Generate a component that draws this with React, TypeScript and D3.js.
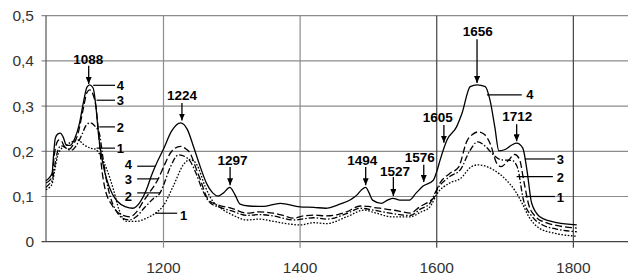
import React from 'react';
import * as d3 from 'd3';

const width = 628;
const height = 276;

const yTicks = [0, 0.1, 0.2, 0.3, 0.4, 0.5];
const xTicks = [1200, 1400, 1600, 1800];

// [wavenumber, absorbance]
const series4: [number, number][] = [
  [1028, 0.135], [1033, 0.142], [1037, 0.152], [1039, 0.19], [1041.5, 0.228], [1045, 0.238],
  [1049, 0.24], [1053, 0.232], [1058, 0.213], [1063, 0.213], [1070, 0.228], [1077, 0.262],
  [1083, 0.31], [1088, 0.342], [1092, 0.347], [1097, 0.34], [1101, 0.3], [1105, 0.235],
  [1111, 0.175], [1117, 0.137], [1125, 0.106], [1132, 0.09], [1145, 0.077], [1155, 0.074],
  [1166, 0.088], [1175, 0.115], [1182, 0.145], [1188, 0.167], [1200, 0.205], [1212, 0.245],
  [1225, 0.263], [1235, 0.248], [1244, 0.21], [1254, 0.165], [1263, 0.129], [1272, 0.108],
  [1280, 0.101], [1288, 0.108], [1297, 0.12], [1304, 0.106], [1312, 0.083], [1325, 0.079],
  [1345, 0.078], [1371, 0.085], [1400, 0.077], [1420, 0.076], [1437, 0.074], [1458, 0.083],
  [1475, 0.094], [1483, 0.103], [1490, 0.115], [1496, 0.12], [1501, 0.108], [1506, 0.092],
  [1519, 0.085], [1528, 0.092], [1536, 0.096], [1546, 0.092], [1560, 0.092], [1570, 0.108],
  [1580, 0.123], [1595, 0.136], [1600, 0.155], [1605, 0.181], [1615, 0.225], [1629, 0.254],
  [1637, 0.284], [1649, 0.343], [1659, 0.347], [1671, 0.343], [1678, 0.313], [1685, 0.254],
  [1691, 0.201], [1700, 0.204], [1710, 0.214], [1717, 0.218], [1726, 0.207], [1732, 0.159],
  [1739, 0.085], [1751, 0.055], [1765, 0.046], [1776, 0.042], [1805, 0.037],
];

const series3: [number, number][] = [
  [1028, 0.13], [1033, 0.135], [1037, 0.145], [1040, 0.19], [1043, 0.215], [1047, 0.225],
  [1051, 0.222], [1056, 0.208], [1062, 0.205], [1068, 0.215], [1075, 0.24], [1082, 0.29],
  [1088, 0.33], [1092, 0.336], [1097, 0.325], [1101, 0.3], [1105, 0.24], [1109, 0.17],
  [1114, 0.12], [1125, 0.08], [1138, 0.06], [1151, 0.055], [1160, 0.065], [1170, 0.088],
  [1180, 0.11], [1192, 0.138], [1200, 0.165], [1212, 0.2], [1225, 0.211], [1233, 0.205],
  [1239, 0.196], [1247, 0.165], [1254, 0.137], [1266, 0.092], [1280, 0.081], [1300, 0.074],
  [1322, 0.063], [1340, 0.066], [1361, 0.063], [1375, 0.058], [1390, 0.052], [1405, 0.057],
  [1420, 0.059], [1439, 0.057], [1455, 0.06], [1468, 0.066], [1488, 0.079], [1500, 0.078],
  [1507, 0.076], [1522, 0.073], [1536, 0.07], [1550, 0.066], [1561, 0.063], [1576, 0.078],
  [1590, 0.09], [1597, 0.1], [1602, 0.122], [1619, 0.151], [1632, 0.165], [1644, 0.222],
  [1653, 0.238], [1661, 0.243], [1670, 0.237], [1678, 0.218], [1688, 0.173], [1694, 0.166],
  [1705, 0.18], [1714, 0.193], [1721, 0.183], [1728, 0.13], [1735, 0.08], [1745, 0.055],
  [1760, 0.042], [1775, 0.036], [1805, 0.03],
];

const series2: [number, number][] = [
  [1028, 0.12], [1033, 0.128], [1037, 0.135], [1041, 0.17], [1045, 0.2], [1050, 0.212],
  [1055, 0.21], [1060, 0.204], [1066, 0.203], [1072, 0.212], [1080, 0.235], [1087, 0.258],
  [1093, 0.263], [1100, 0.255], [1106, 0.24], [1111, 0.19], [1116, 0.14], [1122, 0.1],
  [1130, 0.07], [1140, 0.052], [1150, 0.048], [1160, 0.055], [1172, 0.075], [1185, 0.095],
  [1195, 0.108], [1200, 0.125], [1210, 0.165], [1222, 0.192], [1232, 0.188], [1239, 0.178],
  [1248, 0.15], [1256, 0.118], [1269, 0.085], [1283, 0.076], [1300, 0.068], [1322, 0.058],
  [1340, 0.06], [1361, 0.057], [1390, 0.048], [1420, 0.053], [1439, 0.05], [1468, 0.062],
  [1488, 0.074], [1507, 0.07], [1536, 0.062], [1561, 0.058], [1576, 0.072], [1590, 0.085],
  [1600, 0.115], [1619, 0.144], [1635, 0.16], [1648, 0.2], [1660, 0.221], [1672, 0.21],
  [1683, 0.192], [1695, 0.181], [1710, 0.18], [1718, 0.165], [1727, 0.092], [1740, 0.055],
  [1755, 0.037], [1775, 0.028], [1805, 0.022],
];

const series1: [number, number][] = [
  [1028, 0.115], [1033, 0.12], [1037, 0.128], [1041, 0.16], [1045, 0.19], [1050, 0.205],
  [1056, 0.212], [1062, 0.218], [1068, 0.222], [1075, 0.225], [1083, 0.215], [1093, 0.207],
  [1100, 0.205], [1108, 0.19], [1117, 0.16], [1127, 0.114], [1135, 0.07], [1146, 0.045],
  [1160, 0.045], [1175, 0.052], [1188, 0.063], [1200, 0.08], [1214, 0.122], [1229, 0.17],
  [1239, 0.182], [1249, 0.17], [1261, 0.122], [1271, 0.092], [1283, 0.075], [1300, 0.06],
  [1322, 0.048], [1340, 0.05], [1361, 0.045], [1380, 0.04], [1400, 0.037], [1420, 0.042],
  [1439, 0.04], [1468, 0.055], [1494, 0.07], [1507, 0.065], [1536, 0.055], [1561, 0.055],
  [1576, 0.065], [1590, 0.077], [1600, 0.105], [1619, 0.13], [1635, 0.14], [1650, 0.165],
  [1660, 0.17], [1675, 0.165], [1683, 0.159], [1702, 0.136], [1715, 0.112], [1725, 0.085],
  [1735, 0.055], [1750, 0.03], [1775, 0.018], [1805, 0.012],
];

// peak annotations: label, arrow wavenumber, arrow top/tip values, text position
const peaks = [
  { label: '1088', wn: 1090.5, from: 0.389, to: 0.349, textWn: 1090, textY: 0.404 },
  { label: '1224', wn: 1227, from: 0.307, to: 0.268, textWn: 1227, textY: 0.325 },
  { label: '1297', wn: 1297.5, from: 0.165, to: 0.125, textWn: 1301, textY: 0.181 },
  { label: '1494', wn: 1496, from: 0.165, to: 0.125, textWn: 1491, textY: 0.181 },
  { label: '1527', wn: 1536.5, from: 0.143, to: 0.101, textWn: 1539, textY: 0.156 },
  { label: '1576', wn: 1581, from: 0.17, to: 0.132, textWn: 1575, textY: 0.187 },
  { label: '1605', wn: 1610.5, from: 0.258, to: 0.219, textWn: 1601.5, textY: 0.275 },
  { label: '1656', wn: 1659, from: 0.448, to: 0.351, textWn: 1660, textY: 0.466 },
  { label: '1712', wn: 1717, from: 0.26, to: 0.222, textWn: 1718, textY: 0.278 },
];

// curve number labels with leader lines
const leaders = [
  { label: '4', x1: 1097, x2: 1129, y: 0.346, textWn: 1137, textY: 0.346 },
  { label: '3', x1: 1102, x2: 1129, y: 0.313, textWn: 1137, textY: 0.313 },
  { label: '2', x1: 1106, x2: 1129, y: 0.254, textWn: 1137, textY: 0.254 },
  { label: '1', x1: 1102, x2: 1129, y: 0.207, textWn: 1137, textY: 0.207 },
  { label: '4', x1: 1161.5, x2: 1188, y: 0.167, textWn: 1148.5, textY: 0.171 },
  { label: '3', x1: 1161.5, x2: 1192, y: 0.139, textWn: 1148.5, textY: 0.137 },
  { label: '2', x1: 1161.5, x2: 1195, y: 0.108, textWn: 1148.5, textY: 0.101 },
  { label: '1', x1: 1188, x2: 1220, y: 0.063, textWn: 1229.5, textY: 0.058 },
  { label: '4', x1: 1673.5, x2: 1724.5, y: 0.325, textWn: 1736.5, textY: 0.325 },
  { label: '3', x1: 1729, x2: 1773, y: 0.183, textWn: 1781, textY: 0.183 },
  { label: '2', x1: 1717, x2: 1770, y: 0.144, textWn: 1781, textY: 0.142 },
  { label: '1', x1: 1729, x2: 1773, y: 0.1, textWn: 1781, textY: 0.098 },
];

const seriesList = [
  { name: '1', data: series1, dash: '1.6,1.6' },
  { name: '2', data: series2, dash: '6,2,1.5,2' },
  { name: '3', data: series3, dash: '7,3' },
  { name: '4', data: series4, dash: null },
];

const x = d3.scaleLinear().domain([1028, 1880]).range([46, 628]);
const y = d3.scaleLinear().domain([0, 0.5]).range([241.7, 15.7]);

const line = d3
  .line<[number, number]>()
  .x((d) => x(d[0]))
  .y((d) => y(d[1]))
  .curve(d3.curveMonotoneX);

const font = 'Arial, "Liberation Sans", sans-serif';

export default function App() {
  return (
    <svg
      width={width}
      height={height}
      style={{ position: 'absolute', left: 0, top: 0, background: '#fff' }}
    >
      <defs>
        <marker
          id="arrow"
          viewBox="0 0 7 6"
          refX={7}
          refY={3}
          markerWidth={7}
          markerHeight={6}
          markerUnits="userSpaceOnUse"
          orient="auto"
        >
          <path d="M0,0 L7,3 L0,6 z" fill="#000" />
        </marker>
      </defs>

      {/* horizontal grid */}
      {yTicks.map((t) => (
        <line
          key={'h' + t}
          x1={x.range()[0] - 4.5}
          x2={width}
          y1={y(t)}
          y2={y(t)}
          stroke={t === 0 ? '#444' : '#8c8c8c'}
          strokeWidth={1.2}
        />
      ))}
      {/* vertical grid */}
      {xTicks.map((t) => (
        <line
          key={'v' + t}
          x1={x(t)}
          x2={x(t)}
          y1={y(0.5)}
          y2={y(0) + 6}
          stroke={t < 1500 ? '#8c8c8c' : '#444'}
          strokeWidth={1.2}
        />
      ))}
      <line x1={x(1028)} x2={x(1028)} y1={y(0.5)} y2={y(0)} stroke="#555" strokeWidth={1.2} />

      {/* tick labels */}
      {yTicks.map((t) => (
        <text
          key={'yl' + t}
          x={34}
          y={y(t)}
          dy="0.36em"
          textAnchor="end"
          fontFamily={font}
          fontSize={15.5}
          fill="#333"
        >
          {t === 0 ? '0' : d3.format('.1f')(t).replace('.', ',')}
        </text>
      ))}
      {xTicks.map((t) => (
        <text
          key={'xl' + t}
          x={x(t)}
          y={273}
          textAnchor="middle"
          fontFamily={font}
          fontSize={15.5}
          fill="#333"
        >
          {t}
        </text>
      ))}

      {/* curves */}
      {seriesList.map((s) => (
        <path
          key={s.name}
          d={line(s.data) || ''}
          fill="none"
          stroke="#000"
          strokeWidth={1.3}
          strokeDasharray={s.dash || undefined}
        />
      ))}

      {/* leader lines with curve numbers */}
      {leaders.map((l, i) => (
        <g key={'ld' + i}>
          <line x1={x(l.x1)} x2={x(l.x2)} y1={y(l.y)} y2={y(l.y)} stroke="#000" strokeWidth={1.2} />
          <text
            x={x(l.textWn)}
            y={y(l.textY)}
            dy="0.36em"
            textAnchor="middle"
            fontFamily={font}
            fontWeight="bold"
            fontSize={13}
            fill="#000"
          >
            {l.label}
          </text>
        </g>
      ))}

      {/* peak annotations */}
      {peaks.map((p) => (
        <g key={p.label}>
          <line
            x1={x(p.wn)}
            x2={x(p.wn)}
            y1={y(p.from)}
            y2={y(p.to)}
            stroke="#000"
            strokeWidth={1.3}
            markerEnd="url(#arrow)"
          />
          <text
            x={x(p.textWn)}
            y={y(p.textY)}
            dy="0.36em"
            textAnchor="middle"
            fontFamily={font}
            fontWeight="bold"
            fontSize={13.5}
            fill="#000"
          >
            {p.label}
          </text>
        </g>
      ))}
    </svg>
  );
}
